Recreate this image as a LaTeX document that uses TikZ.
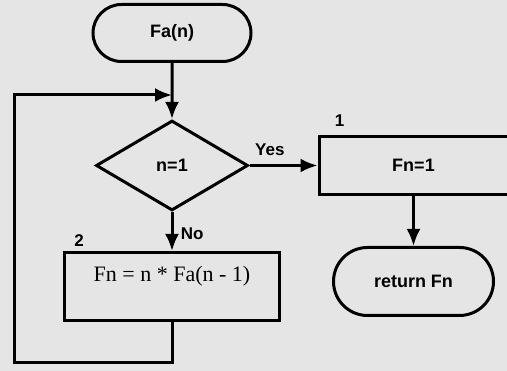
\documentclass[tikz,border=0pt]{standalone}
\usepackage{fontspec}
\setmainfont{Liberation Serif}
\setsansfont{Liberation Sans}
\usetikzlibrary{shapes,arrows.meta,positioning}

\begin{document}
\begin{tikzpicture}[x=1pt,y=1pt,node distance=50pt]
  \tikzset{
    term/.style={draw, rounded rectangle, line width=3pt, inner sep=0pt,
      minimum height=57pt, font=\sffamily\bfseries\fontsize{18}{21}\selectfont},
    test/.style={draw, diamond, line width=3pt, inner sep=0pt,
      minimum width=152pt, minimum height=90pt,
      font=\sffamily\bfseries\fontsize{18}{21}\selectfont},
    stepbox/.style={draw, rectangle, line width=3pt, inner xsep=4pt, inner ysep=4pt},
    tag/.style={draw=none, font=\sffamily\bfseries\fontsize{17}{20}\selectfont},
    myarrow/.style={->, >={Latex[length=17pt,width=14pt]}, line width=3pt},
  }

  % background sheet
  \fill[black!10] (0,0) rectangle (507,371);
  \useasboundingbox (0,0) rectangle (507,371);

  \node[term, minimum width=158pt] (start) at (172,338) {Fa(n)};
  \node[test] (cond) [below=56pt of start] {n=1};
  \node[stepbox, minimum width=189pt, minimum height=58pt,
    font=\sffamily\bfseries\fontsize{18}{21}\selectfont] (one) [right=68pt of cond] {Fn=1};
  \node[term, minimum width=160pt, minimum height=68pt] (ret) [below=50pt of one] {return Fn};
  \node[stepbox, minimum width=215pt, text height=25pt, text depth=35pt,
    font=\fontsize{22}{25}\selectfont] (calc) [below=39pt of cond] {Fn = n * Fa(n - 1)};

  \node[tag] (lab1) at ([xshift=22pt,yshift=14pt]one.north west) {1};
  \node[tag] (lab2) at ([xshift=16pt,yshift=10pt]calc.north west) {2};

  \coordinate (merge) at (172,276);
  \coordinate (corner) at (14,8);

  \draw[myarrow] (start) -- (cond);
  \draw[myarrow] (cond) -- node[tag, above=5pt, pos=0.3] {Yes} (one);
  \draw[myarrow] (cond) -- node[tag, right=4pt, pos=0.55] {No} (calc);
  \draw[myarrow] (one) -- (ret);
  \draw[myarrow] (calc.south) |- (corner) |- (merge);

\end{tikzpicture}
\end{document}
